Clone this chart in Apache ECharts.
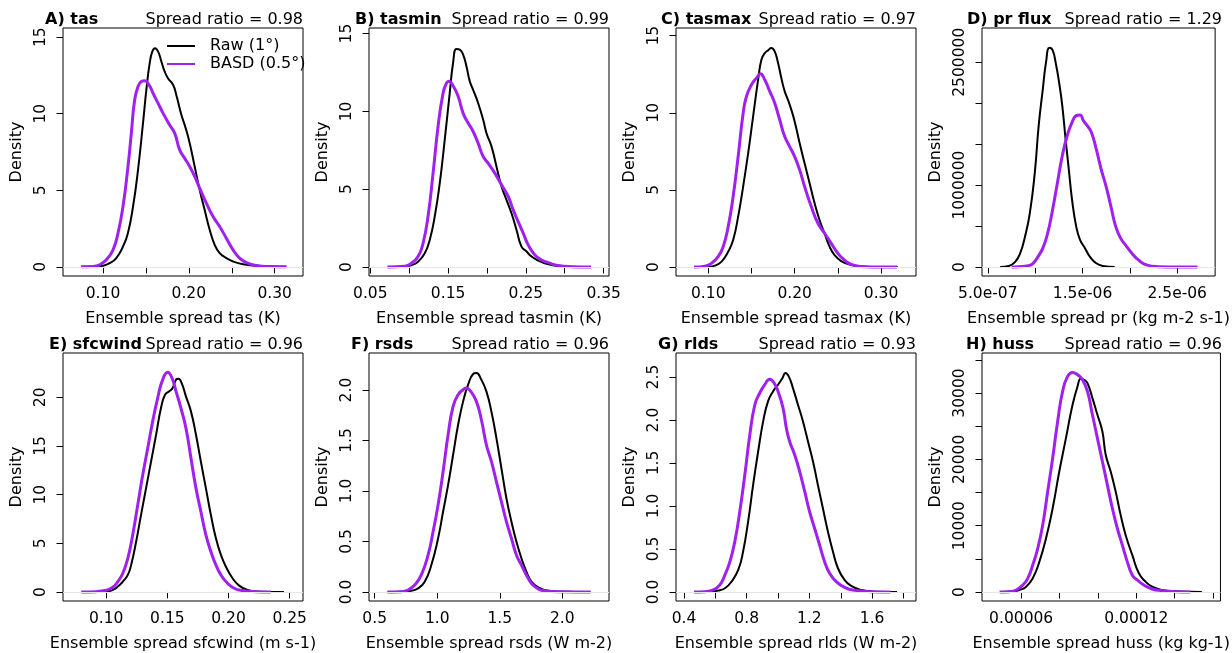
<!DOCTYPE html>
<html>
<head>
<meta charset="utf-8">
<script src="https://cdn.jsdelivr.net/npm/echarts@6/dist/echarts.min.js"></script>
<style>
html,body{margin:0;padding:0;background:#fff;}
#chart{width:1232px;height:653px;}
</style>
</head>
<body>
<div id="chart"></div>
<script>
// ---------- DATA ----------
const seriesNames = ['Raw (1°)', 'BASD (0.5°)'];
const panelTags = ['A) tas', 'B) tasmin', 'C) tasmax', 'D) pr flux', 'E) sfcwind', 'F) rsds', 'G) rlds', 'H) huss'];
const spreadRatios = ['0.98', '0.99', '0.97', '1.29', '0.96', '0.96', '0.93', '0.96'];
const xTitles = ['Ensemble spread tas (K)', 'Ensemble spread tasmin (K)', 'Ensemble spread tasmax (K)',
  'Ensemble spread pr (kg m-2 s-1)', 'Ensemble spread sfcwind (m s-1)', 'Ensemble spread rsds (W m-2)',
  'Ensemble spread rlds (W m-2)', 'Ensemble spread huss (kg kg-1)'];
const yTitle = 'Density';

// tick positions and tick labels
const tasXTicks = [0.10, 0.15, 0.20, 0.25, 0.30];      const tasXLabels = ['0.10', '0.20', '0.30'];
const tasminXTicks = [0.05, 0.10, 0.15, 0.20, 0.25, 0.30, 0.35]; const tasminXLabels = ['0.05', '0.15', '0.25', '0.35'];
const tasmaxXTicks = [0.10, 0.15, 0.20, 0.25, 0.30];   const tasmaxXLabels = ['0.10', '0.20', '0.30'];
const prXTicks = [5e-7, 1e-6, 1.5e-6, 2e-6, 2.5e-6];   const prXLabels = ['5.0e-07', '1.5e-06', '2.5e-06'];
const sfcwindXTicks = [0.10, 0.15, 0.20, 0.25];        const sfcwindXLabels = ['0.10', '0.15', '0.20', '0.25'];
const rsdsXTicks = [0.5, 1.0, 1.5, 2.0];               const rsdsXLabels = ['0.5', '1.0', '1.5', '2.0'];
const rldsXTicks = [0.4, 0.6, 0.8, 1.0, 1.2, 1.4, 1.6, 1.8]; const rldsXLabels = ['0.4', '0.8', '1.2', '1.6'];
const hussXTicks = [6e-5, 8e-5, 1e-4, 1.2e-4, 1.4e-4, 1.6e-4]; const hussXLabels = ['0.00006', '0.00012'];

const tasYTicks = [0, 5, 10, 15];                      const tasYLabels = ['0', '5', '10', '15'];
const sfcwindYTicks = [0, 5, 10, 15, 20];              const sfcwindYLabels = ['0', '5', '10', '15', '20'];
const prYTicks = [0, 500000, 1000000, 1500000, 2000000, 2500000]; const prYLabels = ['0', '1000000', '2500000'];
const rsdsYTicks = [0, 0.5, 1.0, 1.5, 2.0];            const rsdsYLabels = ['0.0', '0.5', '1.0', '1.5', '2.0'];
const rldsYTicks = [0, 0.5, 1.0, 1.5, 2.0, 2.5];       const rldsYLabels = ['0.0', '0.5', '1.0', '1.5', '2.0', '2.5'];
const hussYTicks = [0, 5000, 10000, 15000, 20000, 25000, 30000, 35000]; const hussYLabels = ['0', '10000', '20000', '30000'];

// density curves [spread, density]
const tasRaw = [[0.0748,0],[0.0922,0.02],[0.10,0.07],[0.1078,0.24],[0.1155,0.57],[0.1233,1.33],[0.129,2.2],[0.135,3.94],[0.1408,6.34],[0.1466,9.38],[0.1505,11.56],[0.1544,13.3],[0.1575,14.07],[0.1606,14.28],[0.1641,14.07],[0.168,13.41],[0.1718,12.76],[0.1757,12.32],[0.1816,11.89],[0.1854,11.23],[0.1913,9.93],[0.1963,9.06],[0.201,8.08],[0.2068,6.55],[0.2126,5.03],[0.2184,3.72],[0.2243,2.42],[0.2301,1.44],[0.2359,0.89],[0.2437,0.57],[0.2515,0.35],[0.2631,0.17],[0.2786,0.07],[0.298,0.02],[0.3136,0]];
const tasBasd = [[0.0748,0],[0.0883,0.02],[0.0961,0.13],[0.1039,0.46],[0.1117,1.11],[0.1175,2.2],[0.1233,3.94],[0.1291,6.55],[0.133,8.73],[0.1369,10.91],[0.1408,11.78],[0.1447,12.1],[0.1485,12.15],[0.1536,11.89],[0.1583,11.34],[0.1641,10.69],[0.1699,10.04],[0.1777,9.27],[0.1835,8.73],[0.1893,7.64],[0.1951,7.1],[0.201,6.55],[0.2068,5.9],[0.2126,5.14],[0.2204,4.16],[0.2282,3.29],[0.2359,2.63],[0.2437,1.87],[0.2515,1.11],[0.2592,0.57],[0.267,0.28],[0.2786,0.09],[0.2942,0.02],[0.3136,0]];

const tasminRaw = [[0.0727,0],[0.0942,0.02],[0.1028,0.11],[0.1114,0.34],[0.12,0.88],[0.1264,1.74],[0.1328,3.24],[0.1393,5.39],[0.1457,8.18],[0.1521,11.18],[0.1564,13.11],[0.1607,14.01],[0.165,13.97],[0.1693,13.65],[0.1736,12.9],[0.1779,11.93],[0.1822,11.39],[0.1886,10.54],[0.1951,9.46],[0.1994,8.6],[0.2058,7.75],[0.2122,6.46],[0.2187,5.17],[0.2251,4.31],[0.2315,3.45],[0.238,2.38],[0.2444,1.31],[0.2509,0.99],[0.2573,0.67],[0.2659,0.41],[0.2788,0.17],[0.2959,0.04],[0.3174,0],[0.3337,0]];
const tasminBasd = [[0.0719,0],[0.0942,0.04],[0.1028,0.24],[0.1114,0.67],[0.1178,1.52],[0.1242,3.24],[0.1307,6.03],[0.1371,9.03],[0.1436,11.18],[0.1479,11.82],[0.1509,11.93],[0.1564,11.65],[0.1629,10.97],[0.1693,9.89],[0.1758,9.25],[0.1822,8.71],[0.1886,7.96],[0.1951,7.1],[0.2015,6.67],[0.2101,6.03],[0.2187,5.28],[0.2273,4.53],[0.2337,3.67],[0.2401,2.92],[0.2466,2.17],[0.253,1.42],[0.2616,0.77],[0.2702,0.45],[0.2788,0.28],[0.2916,0.09],[0.3088,0.02],[0.3337,0]];

const tasmaxRaw = [[0.0846,0],[0.10,0.02],[0.1077,0.09],[0.1154,0.35],[0.1231,1.0],[0.1288,1.75],[0.1346,3.27],[0.1404,5.22],[0.1462,7.38],[0.1519,9.76],[0.1577,12.14],[0.1615,13.44],[0.1654,13.87],[0.1692,14.05],[0.1731,14.2],[0.1769,13.98],[0.1808,13.23],[0.1846,12.25],[0.1885,11.39],[0.1923,10.84],[0.1962,10.19],[0.2,9.44],[0.2058,8.03],[0.2115,6.73],[0.2173,5.43],[0.2231,4.13],[0.2288,3.05],[0.2346,2.19],[0.2404,1.32],[0.2462,0.78],[0.2538,0.39],[0.2654,0.13],[0.2808,0.02],[0.30,0],[0.3192,0]];
const tasmaxBasd = [[0.0835,0],[0.0962,0.06],[0.1038,0.24],[0.1115,0.67],[0.1173,1.32],[0.1231,2.62],[0.1288,4.57],[0.1346,7.16],[0.1404,9.98],[0.1442,11.06],[0.15,11.82],[0.1558,12.25],[0.1604,12.53],[0.1654,12.14],[0.1712,11.39],[0.1769,10.63],[0.1827,9.55],[0.1885,8.46],[0.1942,7.81],[0.2,7.16],[0.2058,6.3],[0.2115,5.22],[0.2192,3.92],[0.2269,2.84],[0.2346,2.19],[0.2423,1.54],[0.25,0.89],[0.2577,0.45],[0.2654,0.17],[0.2769,0.04],[0.30,0],[0.3185,0]];

const prRaw = [[0.63e-6,0],[0.722e-6,12000],[0.791e-6,66000],[0.842e-6,168000],[0.893e-6,373000],[0.944e-6,660000],[0.996e-6,1152000],[1.037e-6,1725000],[1.081e-6,2176000],[1.115e-6,2504000],[1.15e-6,2676000],[1.184e-6,2648000],[1.218e-6,2484000],[1.252e-6,2258000],[1.286e-6,1971000],[1.321e-6,1561000],[1.355e-6,1193000],[1.389e-6,824000],[1.433e-6,496000],[1.474e-6,332000],[1.526e-6,230000],[1.577e-6,127000],[1.645e-6,45000],[1.714e-6,12000],[1.84e-6,0]];
const prBasd = [[0.75e-6,0],[0.825e-6,4000],[0.927e-6,16000],[0.979e-6,45000],[1.03e-6,127000],[1.081e-6,230000],[1.132e-6,414000],[1.184e-6,700000],[1.235e-6,1029000],[1.286e-6,1357000],[1.338e-6,1602000],[1.389e-6,1766000],[1.433e-6,1848000],[1.474e-6,1857000],[1.509e-6,1787000],[1.55e-6,1725000],[1.594e-6,1643000],[1.645e-6,1439000],[1.697e-6,1193000],[1.748e-6,988000],[1.799e-6,742000],[1.85e-6,496000],[1.902e-6,352000],[1.953e-6,270000],[2.021e-6,168000],[2.09e-6,86000],[2.175e-6,25000],[2.295e-6,4000],[2.534e-6,0],[2.715e-6,0]];

const sfcwindRaw = [[0.0891,0],[0.10,0.03],[0.1054,0.21],[0.1095,0.55],[0.1136,1.06],[0.1177,1.75],[0.1204,2.78],[0.1245,5.18],[0.1285,7.92],[0.1326,10.67],[0.1367,13.41],[0.1408,16.16],[0.1448,18.9],[0.1481,20.27],[0.1516,20.62],[0.1543,20.96],[0.1571,21.82],[0.159,21.92],[0.1617,21.47],[0.1652,20.1],[0.1693,18.56],[0.1734,16.16],[0.1774,13.41],[0.1815,10.67],[0.1856,7.92],[0.1897,5.52],[0.1938,3.81],[0.1978,2.61],[0.2033,1.41],[0.2087,0.65],[0.2155,0.21],[0.225,0.03],[0.2454,0]];
const sfcwindBasd = [[0.0796,0],[0.0918,0.03],[0.10,0.17],[0.1054,0.48],[0.1095,1.06],[0.1136,1.92],[0.1177,3.46],[0.1217,5.87],[0.1258,8.95],[0.1299,12.04],[0.134,14.79],[0.138,17.53],[0.1421,19.93],[0.1462,21.82],[0.1503,22.57],[0.1538,21.99],[0.1571,20.62],[0.1611,18.9],[0.1652,16.84],[0.1693,13.76],[0.1734,10.67],[0.1774,8.27],[0.1815,5.87],[0.1856,4.15],[0.1897,2.78],[0.1938,1.75],[0.1992,0.89],[0.2046,0.38],[0.2114,0.14],[0.2223,0.03],[0.2345,0]];

const rsdsRaw = [[0.607,0],[0.713,0.003],[0.793,0.013],[0.847,0.036],[0.90,0.102],[0.953,0.268],[1.007,0.532],[1.047,0.797],[1.087,1.061],[1.127,1.359],[1.167,1.656],[1.207,1.888],[1.247,2.053],[1.287,2.159],[1.313,2.169],[1.353,2.102],[1.393,1.987],[1.433,1.788],[1.473,1.524],[1.513,1.226],[1.553,0.929],[1.593,0.698],[1.633,0.499],[1.673,0.334],[1.713,0.202],[1.753,0.102],[1.807,0.046],[1.887,0.013],[2.02,0.003],[2.225,0]];
const rsdsBasd = [[0.601,0],[0.713,0.003],[0.767,0.02],[0.82,0.069],[0.873,0.169],[0.927,0.367],[0.967,0.598],[1.007,0.863],[1.047,1.193],[1.087,1.557],[1.127,1.838],[1.167,1.954],[1.207,2.003],[1.233,2.02],[1.268,1.987],[1.313,1.888],[1.353,1.706],[1.393,1.458],[1.433,1.293],[1.473,1.094],[1.513,0.896],[1.553,0.698],[1.593,0.532],[1.633,0.367],[1.673,0.268],[1.727,0.136],[1.78,0.053],[1.86,0.013],[1.993,0.003],[2.225,0]];

const rldsRaw = [[0.47,0],[0.555,0.004],[0.618,0.016],[0.661,0.043],[0.703,0.12],[0.746,0.256],[0.777,0.47],[0.809,0.819],[0.841,1.246],[0.873,1.634],[0.905,1.984],[0.936,2.217],[0.968,2.333],[1.0,2.411],[1.028,2.488],[1.047,2.547],[1.068,2.508],[1.095,2.372],[1.127,2.178],[1.159,1.984],[1.191,1.751],[1.223,1.518],[1.254,1.246],[1.286,0.974],[1.318,0.703],[1.35,0.47],[1.382,0.276],[1.424,0.14],[1.466,0.07],[1.53,0.023],[1.615,0.004],[1.759,0]];
const rldsBasd = [[0.464,0],[0.534,0.004],[0.587,0.023],[0.629,0.082],[0.661,0.198],[0.693,0.353],[0.724,0.586],[0.756,0.936],[0.788,1.363],[0.82,1.828],[0.852,2.178],[0.883,2.314],[0.915,2.411],[0.947,2.475],[0.975,2.43],[1.0,2.333],[1.032,2.139],[1.053,1.906],[1.074,1.751],[1.106,1.596],[1.138,1.401],[1.17,1.169],[1.201,0.936],[1.233,0.741],[1.265,0.547],[1.297,0.353],[1.329,0.217],[1.371,0.12],[1.424,0.054],[1.488,0.019],[1.594,0.004],[1.717,0]];

const hussRaw = [[4.964e-5,0],[5.568e-5,101],[5.914e-5,302],[6.259e-5,805],[6.604e-5,2063],[6.95e-5,4580],[7.295e-5,8103],[7.641e-5,12632],[7.986e-5,18168],[8.332e-5,23201],[8.677e-5,28234],[8.936e-5,31001],[9.109e-5,32159],[9.282e-5,32008],[9.454e-5,31505],[9.713e-5,29240],[9.972e-5,26724],[10.231e-5,24207],[10.404e-5,20685],[10.663e-5,18168],[10.922e-5,15148],[11.181e-5,11626],[11.44e-5,8606],[11.786e-5,5586],[12.131e-5,2818],[12.477e-5,1560],[12.822e-5,805],[13.34e-5,302],[14.03e-5,101],[15.41e-5,0]];
const hussBasd = [[4.877e-5,0],[5.396e-5,50],[5.741e-5,302],[6.086e-5,1057],[6.345e-5,2063],[6.604e-5,4077],[6.864e-5,6593],[7.123e-5,10116],[7.382e-5,15148],[7.641e-5,20181],[7.9e-5,25717],[8.159e-5,30247],[8.418e-5,32511],[8.677e-5,33115],[8.936e-5,32763],[9.195e-5,32008],[9.454e-5,30247],[9.713e-5,26724],[9.972e-5,23201],[10.231e-5,19678],[10.49e-5,16155],[10.75e-5,12632],[11.009e-5,9612],[11.268e-5,7096],[11.527e-5,4580],[11.786e-5,2567],[12.045e-5,1812],[12.39e-5,1057],[12.822e-5,453],[13.34e-5,201],[14.03e-5,50],[14.81e-5,0]];

// ---------- PANELS ----------
const panels = [
  {raw: tasRaw, basd: tasBasd, xt: tasXTicks, xl: tasXLabels, yt: tasYTicks, yl: tasYLabels, xr: [0.0534, 0.333], yr: [-0.6, 15.6]},
  {raw: tasminRaw, basd: tasminBasd, xt: tasminXTicks, xl: tasminXLabels, yt: tasYTicks, yl: tasYLabels, xr: [0.0483, 0.3569], yr: [-0.58, 15.36]},
  {raw: tasmaxRaw, basd: tasmaxBasd, xt: tasmaxXTicks, xl: tasmaxXLabels, yt: tasYTicks, yl: tasYLabels, xr: [0.0627, 0.3404], yr: [-0.58, 15.5]},
  {raw: prRaw, basd: prBasd, xt: prXTicks, xl: prXLabels, yt: prYTicks, yl: prYLabels, xr: [4.385e-7, 2.9e-6], yr: [-110000, 2918000]},
  {raw: sfcwindRaw, basd: sfcwindBasd, xt: sfcwindXTicks, xl: sfcwindXLabels, yt: sfcwindYTicks, yl: sfcwindYLabels, xr: [0.0647, 0.2609], yr: [-0.93, 24.56]},
  {raw: rsdsRaw, basd: rsdsBasd, xt: rsdsXTicks, xl: rsdsXLabels, yt: rsdsYTicks, yl: rsdsYLabels, xr: [0.4547, 2.373], yr: [-0.089, 2.367]},
  {raw: rldsRaw, basd: rldsBasd, xt: rldsXTicks, xl: rldsXLabels, yt: rldsYTicks, yl: rldsYLabels, xr: [0.349, 1.88], yr: [-0.105, 2.78]},
  {raw: hussRaw, basd: hussBasd, xt: hussXTicks, xl: hussXLabels, yt: hussYTicks, yl: hussYLabels, xr: [3.96e-5, 1.638e-4], yr: [-1359, 36040]}
];

// ---------- LAYOUT ----------
const FONT = 'DejaVu Sans';
const colLeft = [63, 369, 676, 982];
const rowTop = [28, 353];
const boxW = 240, boxH = 248;
const tagLeft = [45, 355, 661, 967, 49, 351, 658, 966];
const RAW_COLOR = '#000000';
const BASD_COLOR = '#A020F0';

function fmtFrom(labels) {
  return function (v) {
    for (const s of labels) {
      const n = Number(s);
      if (Math.abs(n - v) <= Math.abs(n) * 1e-9 + 1e-15) return s;
    }
    return '';
  };
}

const grids = [], xAxes = [], yAxes = [], series = [], titles = [];
panels.forEach((p, i) => {
  const r = Math.floor(i / 4), c = i % 4;
  const left = colLeft[c], top = rowTop[r];
  grids.push({left: left, top: top, width: boxW, height: boxH, show: true,
    borderColor: '#000', borderWidth: 1, backgroundColor: 'transparent', containLabel: false});
  xAxes.push({
    type: 'value', gridIndex: i, min: p.xr[0], max: p.xr[1],
    name: xTitles[i], nameLocation: 'middle', nameGap: 35,
    nameTextStyle: {fontFamily: FONT, fontSize: 16, color: '#000'},
    axisLine: {show: false},
    splitLine: {show: false},
    axisTick: {show: true, length: 6.5, customValues: p.xt, lineStyle: {color: '#000', width: 1}},
    axisLabel: {show: true, customValues: p.xl.map(Number), formatter: fmtFrom(p.xl),
      margin: 10, fontFamily: FONT, fontSize: 15.5, color: '#000', hideOverlap: false}
  });
  yAxes.push({
    type: 'value', gridIndex: i, min: p.yr[0], max: p.yr[1],
    name: yTitle, nameLocation: 'middle', nameGap: 38,
    nameTextStyle: {fontFamily: FONT, fontSize: 16, color: '#000'},
    axisLine: {show: false},
    splitLine: {show: false},
    axisTick: {show: true, length: 6.5, customValues: p.yt, lineStyle: {color: '#000', width: 1}},
    axisLabel: {show: true, rotate: 90, customValues: p.yl.map(Number), formatter: fmtFrom(p.yl),
      margin: 14, fontFamily: FONT, fontSize: 15.5, color: '#000', hideOverlap: false}
  });
  series.push({
    name: seriesNames[0], type: 'line', xAxisIndex: i, yAxisIndex: i, data: p.raw,
    symbol: 'none', showSymbol: false, smooth: 0.5,
    lineStyle: {color: RAW_COLOR, width: 2}, itemStyle: {color: RAW_COLOR},
    markLine: {silent: true, symbol: ['none', 'none'], label: {show: false},
      lineStyle: {color: '#e6e6e6', type: 'solid', width: 1}, data: [{yAxis: 0}]},
    z: 2
  });
  series.push({
    name: seriesNames[1], type: 'line', xAxisIndex: i, yAxisIndex: i, data: p.basd,
    symbol: 'none', showSymbol: false, smooth: 0.5,
    lineStyle: {color: BASD_COLOR, width: 3}, itemStyle: {color: BASD_COLOR},
    z: 3
  });
  titles.push({text: panelTags[i], left: tagLeft[i], top: top - 16, padding: 0,
    textStyle: {fontFamily: FONT, fontSize: 16, fontWeight: 'bold', color: '#000'}});
  titles.push({text: 'Spread ratio = ' + spreadRatios[i], right: 1232 - (left + boxW), top: top - 16, padding: 0,
    textStyle: {fontFamily: FONT, fontSize: 16, fontWeight: 'normal', color: '#000'}});
});

const chart = echarts.init(document.getElementById('chart'), null, {renderer: 'canvas'});
chart.setOption({
  animation: false,
  backgroundColor: '#fff',
  title: titles,
  legend: {
    data: seriesNames.map(n => ({name: n, icon: 'rect'})), orient: 'vertical', left: 167, top: 38, padding: 0,
    itemWidth: 28, itemHeight: 2, itemGap: 2, selectedMode: false,
    textStyle: {fontFamily: FONT, fontSize: 16, color: '#000', padding: [0, 0, 0, 10]}
  },
  grid: grids,
  xAxis: xAxes,
  yAxis: yAxes,
  series: series
});
</script>
</body>
</html>
